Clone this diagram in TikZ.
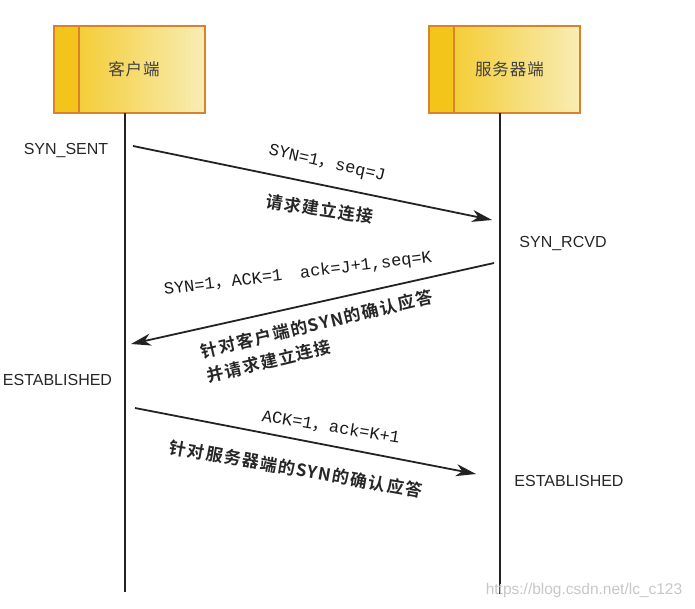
\documentclass[tikz,border=0pt]{standalone}
\usepackage{fontspec}
\setmainfont{Liberation Sans}
\newfontfamily\cjk{Noto Sans CJK SC}
\newfontfamily\cjkbox{Noto Sans CJK SC}[LetterSpace=6]
\newfontfamily\cjkb{Noto Sans CJK SC Bold}[LetterSpace=8]
\newfontfamily\mono{Liberation Mono}
\usetikzlibrary{arrows.meta}
\definecolor{boxedge}{HTML}{D9822B}
\definecolor{boxleft}{HTML}{F3C71E}
\definecolor{boxright}{HTML}{F8EDB5}
\definecolor{stripfill}{HTML}{F3C51A}
\definecolor{linecol}{HTML}{222222}
\tikzset{
  x=1pt, y=-1pt,
  party/.style={draw=boxedge, line width=2pt, minimum width=151pt, minimum height=87pt,
    left color=boxleft, right color=boxright, inner sep=0pt, outer sep=0pt,
    font=\cjkbox\fontsize{16.5}{16.5}\selectfont, text=black!75},
  strip/.style={draw=boxedge, line width=2pt, fill=stripfill, inner sep=0pt},
  life/.style={draw=linecol, line width=1.6pt},
  msg/.style={draw=linecol, line width=1.8pt, -{Stealth[length=20pt,width=12pt,inset=6pt]}},
  state/.style={font=\fontsize{16}{16}\selectfont, text=black!85, inner sep=0pt},
  lab/.style={font=\mono\fontsize{17}{17}\selectfont, text=black!90, inner sep=0pt},
  clab/.style={font=\cjkb\fontsize{17}{25}\selectfont, text=black!85, inner sep=0pt},
}
\begin{document}
\begin{tikzpicture}
\useasboundingbox (0,0) rectangle (695,608);
% boxes
\node[party] (client) at (129,69.5) {\hspace*{10pt}客户端};
\node[party] (server) at (504.5,69.5) {\hspace*{10pt}服务器端};
\draw[strip] (client.north west) rectangle ([xshift=25pt]client.south west);
\draw[strip] (server.north west) rectangle ([xshift=25pt]server.south west);
% lifelines
\coordinate (cend) at (125,592);
\coordinate (send) at (500,594);
\draw[life] (client.south -| cend) -- (cend);
\draw[life] (server.south -| send) -- (send);
% states
\node[state] (s1) at (66,150) {SYN\_SENT};
\node[state] (s2) at (563,243) {SYN\_RCVD};
\node[state] (s3) at (57.5,380) {ESTABLISHED};
\node[state] (s4) at (569,481) {ESTABLISHED};
% message 1
\coordinate (a1) at (133,146);
\coordinate (b1) at (492,220);
\draw[msg] (a1) -- (b1);
\node[lab, rotate=-12.7] (l1) at (327,164) {SYN=1{\cjk ，}seq=J};
\node[clab, rotate=-8.6] (c1) at (320,209) {请求建立连接};
% message 2
\coordinate (a2) at (494,263);
\coordinate (b2) at (131,344);
\draw[msg] (a2) -- (b2);
\node[lab, rotate=7] (l2) at (298,274) {SYN=1{\cjk ，}ACK=1\hspace{18pt}ack=J+1,seq=K};
\node[clab, rotate=13.5, align=left, anchor=west] (c2) at (204,364)
  {针对客户端的SYN的确认应答\\并请求建立连接};
% message 3
\coordinate (a3) at (135,408);
\coordinate (b3) at (476,474);
\draw[msg] (a3) -- (b3);
\node[lab, rotate=-9.2] (l3) at (331,427) {ACK=1{\cjk ，}ack=K+1};
\node[clab, rotate=-10] (c4) at (296,469) {针对服务器端的SYN的确认应答};
% watermark
\node[font=\fontsize{15.5}{15.5}\selectfont, text=black!22, inner sep=0pt] (wm) at (584,590) {https://blog.csdn.net/lc\_c123};
\end{tikzpicture}
\end{document}
